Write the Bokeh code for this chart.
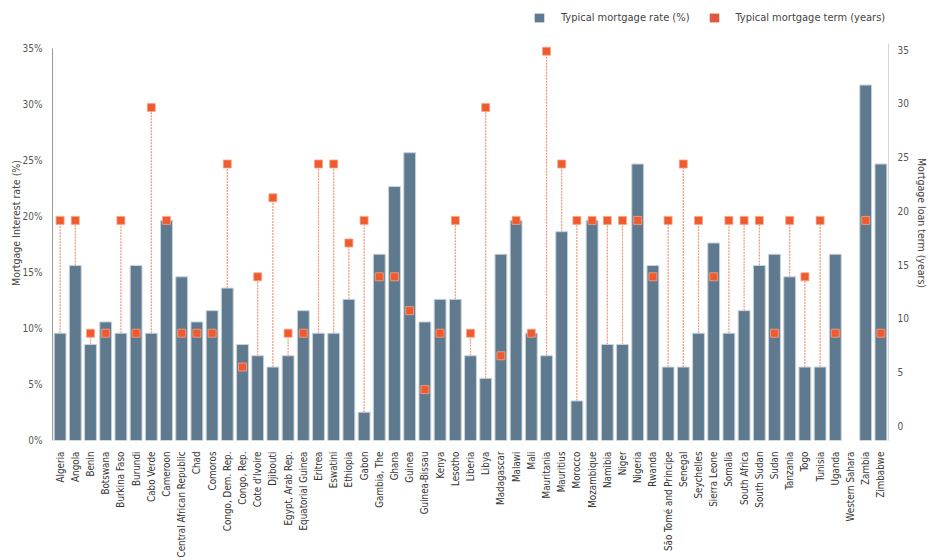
from math import pi, nan
from bokeh.plotting import figure
from bokeh.models import (Range1d, LinearAxis, FactorRange, FixedTicker,
                          PrintfTickFormatter, Legend, LegendItem, ColumnDataSource)
from bokeh.embed import file_html
from bokeh.resources import INLINE

countries = ["Algeria", "Angola", "Benin", "Botswana", "Burkina Faso", "Burundi",
             "Cabo Verde", "Cameroon", "Central African Republic", "Chad", "Comoros",
             "Congo, Dem. Rep.", "Congo, Rep.", "Cote d'Ivoire", "Djibouti",
             "Egypt, Arab Rep.", "Equatorial Guinea", "Eritrea", "Eswatini", "Ethiopia",
             "Gabon", "Gambia, The", "Ghana", "Guinea", "Guinea-Bissau", "Kenya",
             "Lesotho", "Liberia", "Libya", "Madagascar", "Malawi", "Mali", "Mauritania",
             "Mauritius", "Morocco", "Mozambique", "Namibia", "Niger", "Nigeria",
             "Rwanda", "São Tomé and Principe", "Senegal", "Seychelles", "Sierra Leone",
             "Somalia", "South Africa", "South Sudan", "Sudan", "Tanzania", "Togo",
             "Tunisia", "Uganda", "Western Sahara", "Zambia", "Zimbabwe"]

rate = [10, 16, 9, 11, 10, 16, 10, 20, 15, 11, 12, 14, 9, 8, 7, 8, 12, 10, 10, 13,
        3, 17, 23, 26, 11, 13, 13, 8, 6, 17, 20, 10, 8, 19, 4, 20, 9, 9, 25, 16,
        7, 7, 10, 18, 10, 12, 16, 17, 15, 7, 7, 17, nan, 32, 25]

term = [20, 20, 10, 10, 20, 10, 30, 20, 10, 10, 10, 25, 7, 15, 22, 10, 10, 25, 25, 18,
        20, 15, 15, 12, 5, 10, 20, 10, 30, 8, 20, 10, 35, 25, 20, 20, 20, 20, 20, 15,
        20, 25, 20, 15, 20, 20, 20, 10, 20, 15, 20, 10, nan, 20, 10]

pct_ticks = [0, 5, 10, 15, 20, 25, 30, 35]
year_ticks = [0, 5, 10, 15, 20, 25, 30, 35]

FONT = "DejaVu Sans Condensed"
BAR = "#5f7a8e"
ORANGE = "#ef5a2f"
ORANGE_LEG = "#de5a3c"

src = ColumnDataSource(dict(country=countries, rate=rate, term=term))

p = figure(x_range=FactorRange(*countries, range_padding=0),
           y_range=Range1d(0.49, 39.05),
           width=930, height=560, output_backend="svg", toolbar_location=None,
           y_axis_location=None,
           min_border_left=52, min_border_right=31, min_border_top=5,
           min_border_bottom=120)
p.outline_line_color = None
p.xgrid.grid_line_color = None
p.ygrid.grid_line_color = None

p.extra_y_ranges = {"pct": Range1d(0, 38.84), "yrs": Range1d(-1.397, 39.13)}

seg = p.segment(x0="country", y0="rate", x1="country", y1="term", source=src,
                line_color="#f2957a", line_width=1.2, line_dash="2 1")
bars = p.vbar(x="country", top="rate", width=0.78, source=src,
              fill_color=BAR, line_color="#c9d3dc", line_width=1)
marks = p.scatter(x="country", y="term", source=src, marker="square", size=8,
                  fill_color=ORANGE, line_color="#f7a488", line_width=0.8)

# renderers used only for the legend swatches (hidden in the plot)
leg_bar = p.vbar(x="country", top="rate", width=0.78, source=src,
                 fill_color=BAR, line_color=None, visible=False)
leg_term = p.vbar(x="country", top="term", width=0.78, source=src,
                  fill_color=ORANGE_LEG, line_color=None, visible=False)

left = LinearAxis(y_range_name="pct", ticker=FixedTicker(ticks=pct_ticks),
                  formatter=PrintfTickFormatter(format="%d%%"),
                  axis_label="Mortgage Interest rate (%)", bounds=(0, 35))
right = LinearAxis(y_range_name="yrs", ticker=FixedTicker(ticks=year_ticks),
                   axis_label="Mortgage loan term (years)", bounds=(-1.397, 35.6))
for ax, lc in ((left, "#9a9a9a"), (right, "#d6d6d6")):
    ax.axis_line_color = lc
    ax.major_tick_line_color = None
    ax.minor_tick_line_color = None
    ax.major_label_text_font = FONT
    ax.major_label_text_font_size = "10px"
    ax.major_label_text_color = "#555555"
    ax.axis_label_text_font = FONT
    ax.axis_label_text_font_size = "10.5px"
    ax.axis_label_text_font_style = "normal"
    ax.axis_label_text_color = "#444444"
    ax.major_label_standoff = 4
    ax.axis_label_standoff = 5
left.axis_label_standoff = -2
right.major_label_standoff = 3
right.axis_label_standoff = 4
p.add_layout(left, "left")
p.add_layout(right, "right")

xa = p.xaxis[0]
xa.major_label_orientation = pi / 2
xa.axis_line_color = None
xa.major_tick_line_color = None
xa.minor_tick_line_color = None
xa.major_label_text_font = FONT
xa.major_label_text_font_size = "9.8px"
xa.major_label_text_color = "#333333"
xa.major_label_standoff = 5

legend = Legend(items=[LegendItem(label="Typical mortgage rate (%)", renderers=[leg_bar], index=0),
                       LegendItem(label="Typical mortgage term (years)", renderers=[leg_term], index=0)],
                orientation="horizontal", location=(481, 416),
                glyph_width=12, glyph_height=11, label_standoff=16, spacing=18,
                padding=0, margin=0, border_line_color=None, background_fill_alpha=0,
                label_text_font=FONT, label_text_font_size="11px",
                label_text_color="#444444", label_height=12)
p.add_layout(legend, "center")

open("out.html", "w").write(file_html(p, INLINE))
